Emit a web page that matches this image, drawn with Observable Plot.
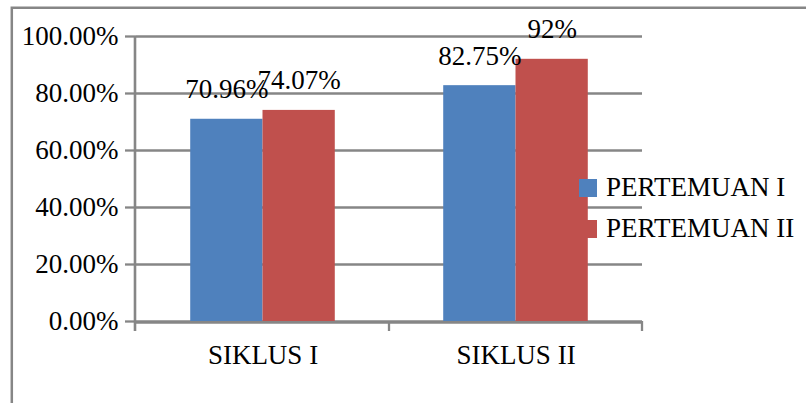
<!DOCTYPE html>
<html><head><meta charset="utf-8">
<script src="https://cdn.jsdelivr.net/npm/d3@7"></script>
<script src="https://cdn.jsdelivr.net/npm/@observablehq/plot@0.6"></script>
<style>html,body{margin:0;padding:0;background:#fff}</style>
</head><body><div id="chart"></div>
<script>
const categories = ["SIKLUS I", "SIKLUS II"];
const series = ["PERTEMUAN I", "PERTEMUAN II"];
const pertemuan1 = [70.96, 82.75];
const pertemuan2 = [74.07, 92];
const labels1 = ["70.96%", "82.75%"];
const labels2 = ["74.07%", "92%"];
const yTicks = [0, 20, 40, 60, 80, 100];
const colors = ["#4F81BD", "#C0504D"];

const data = categories.flatMap((c, i) => [
  {cat: c, series: series[0], value: pertemuan1[i], label: labels1[i]},
  {cat: c, series: series[1], value: pertemuan2[i], label: labels2[i]}
]);

const font = "'Liberation Serif','Times New Roman',serif";
const grid = "#868686";
const fs = 27;

const chart = Plot.plot({
  width: 806, height: 403,
  marginLeft: 135, marginRight: 164, marginTop: 36, marginBottom: 82,
  style: {fontFamily: font, background: "white", color: "black"},
  fx: {domain: categories, padding: 0, label: null},
  x: {domain: series, paddingInner: 0, paddingOuter: 0.75, axis: null, round: false},
  y: {domain: [0, 100], axis: null},
  color: {domain: series, range: colors},
  marks: [
    Plot.gridY(yTicks, {stroke: grid, strokeOpacity: 1, strokeWidth: 2.3}),
    Plot.barY(data, {fx: "cat", x: "series", y: "value", fill: "series"}),
    Plot.ruleY([0], {stroke: grid, strokeWidth: 2.3, dy: 1}),
    Plot.axisY(yTicks, {tickSize: 11, tickPadding: 7, stroke: grid, strokeWidth: 2.3, fill: "black", fontSize: fs, tickFormat: d => d.toFixed(2) + "%", label: null}),
    Plot.axisFx({anchor: "bottom", tickSize: 0, tickPadding: 23, fontSize: fs, fill: "black", label: null}),
    Plot.text(data, {fx: "cat", x: "series", y: "value", text: "label", dy: -21, lineAnchor: "bottom", fontSize: fs, fill: "black"})
  ]
});

document.getElementById("chart").appendChild(chart);

const svg = d3.select(chart);
const fx = chart.scale("fx");
const ys = chart.scale("y");
const cs = chart.scale("color");
const y0 = ys.apply(0), y100 = ys.apply(100);
const edges = categories.map(c => fx.apply(c));
edges.push(edges[edges.length - 1] + fx.bandwidth);

const deco = svg.append("g").attr("stroke", grid).attr("stroke-width", 2.3).attr("fill", "none");
// outer chart border
deco.append("path").attr("d", `M11.8,${403} V7.8 H806`).attr("stroke-width", 2.5);
// y axis line
deco.append("line").attr("x1", edges[0] - 1).attr("x2", edges[0] - 1).attr("y1", y100).attr("y2", y0 + 10).attr("stroke-width", 2.6);
// category boundary ticks
edges.slice(1).forEach(e => {
  deco.append("line").attr("x1", e).attr("x2", e).attr("y1", y0).attr("y2", y0 + 10);
});

// legend
const lg = svg.append("g").attr("font-family", font).attr("font-size", fs).attr("fill", "black").attr("text-anchor", "start");
series.forEach((s, i) => {
  const top = 179 + i * 41;
  lg.append("rect").attr("x", 579).attr("y", top).attr("width", 18).attr("height", 18).attr("fill", cs.apply(s));
  lg.append("text").attr("x", 606).attr("y", top + 16.5).attr("text-anchor", "start").text(s);
});
</script>
</body></html>
